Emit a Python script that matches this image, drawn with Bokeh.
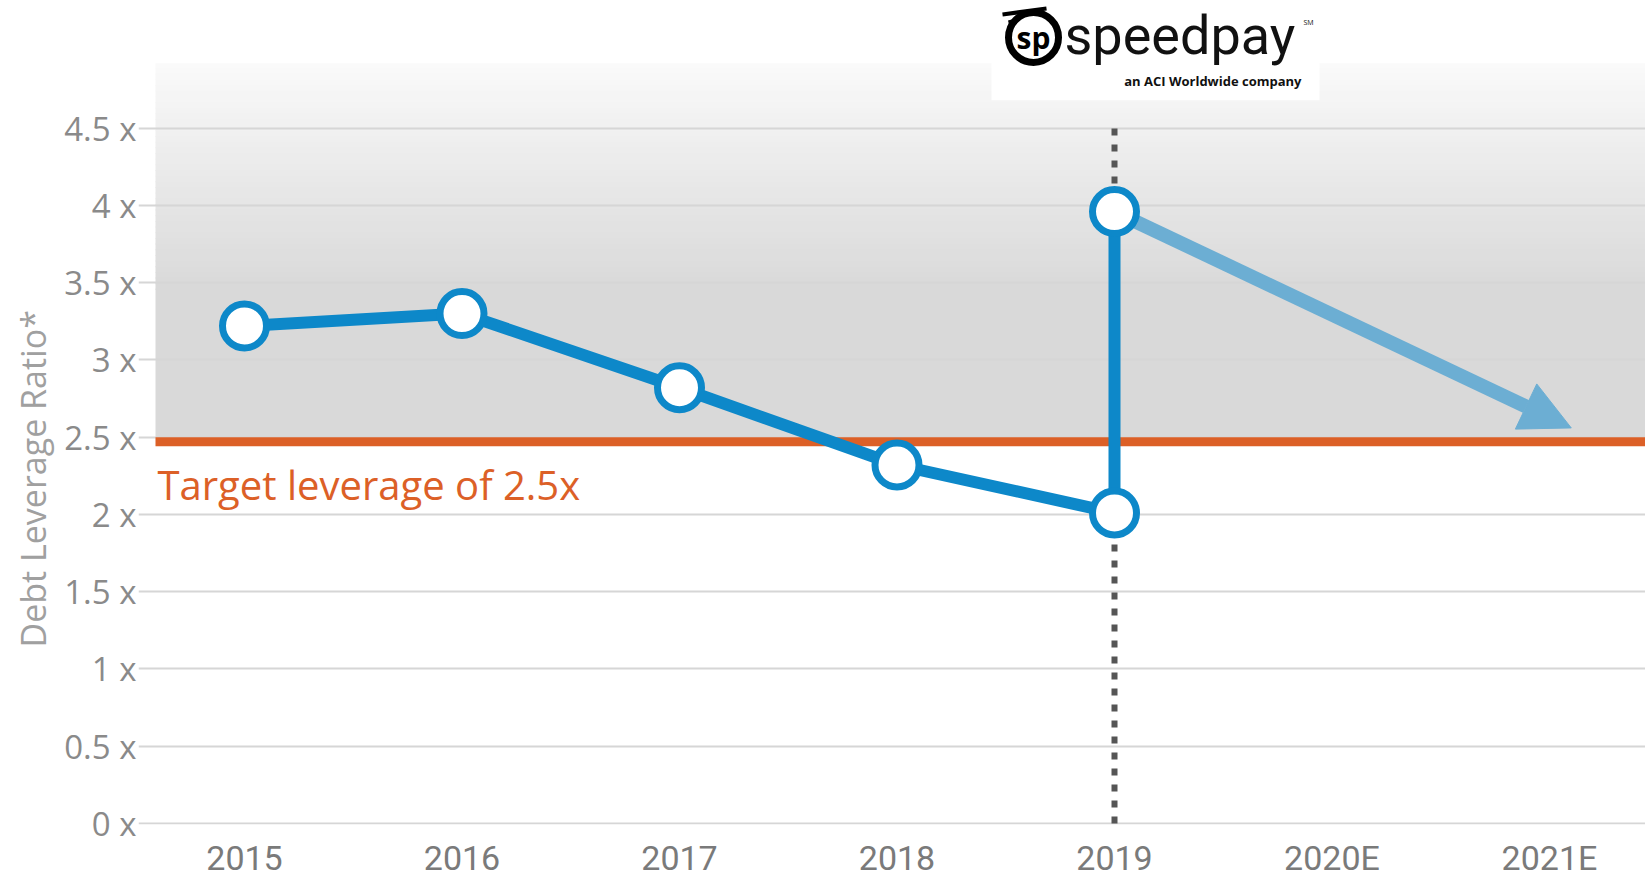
import math
from bokeh.plotting import figure
from bokeh.models import Range1d, FixedTicker, Arrow, NormalHead, Label, Title
from bokeh.embed import file_html
from bokeh.resources import INLINE
from bokeh.core.properties import value

# ---------------- data ----------------
years = ["2015", "2016", "2017", "2018", "2019", "2020E", "2021E"]
leverage_years = ["2015", "2016", "2017", "2018", "2019"]
leverage_values = [3.22, 3.30, 2.82, 2.32, 2.01]
pro_forma_year = "2019"
pro_forma_value = 3.96
forecast_years = ["2019", "2021E"]
forecast_values = [3.96, 2.56]
target_leverage = 2.5
y_ticks = [0.0, 0.5, 1.0, 1.5, 2.0, 2.5, 3.0, 3.5, 4.0, 4.5]
y_tick_labels = ["0 x", "0.5 x", "1 x", "1.5 x", "2 x", "2.5 x", "3 x", "3.5 x", "4 x", "4.5 x"]

# ---------------- geometry helpers (screen px -> data) ----------------
W, H = 1645, 880
X0PX, XSTEP = 244.0, 217.5      # screen x of first category, px per category
Y0PX, YSTEP = 825.0, 154.9      # screen y of 0, px per unit
FRAME_L, FRAME_B = 138, 826


def dx(sx):
    return (sx - X0PX) / XSTEP


def dy(sy):
    return (Y0PX - sy) / YSTEP


x_lo, x_hi = dx(FRAME_L), dx(W)
y_lo, y_hi = dy(FRAME_B), dy(0)

p = figure(width=W, height=H, output_backend="svg", toolbar_location=None,
           x_range=Range1d(x_lo, x_hi), y_range=Range1d(y_lo, y_hi),
           min_border_left=FRAME_L, min_border_right=0, min_border_top=0,
           min_border_bottom=H - FRAME_B, background_fill_color="white",
           border_fill_color="white")
p.outline_line_color = None

# ---------------- shaded zone above target (vertical gradient) ----------------
g_left = dx(155)
top_v, grad_end_v = dy(63), dy(290)
n = 40
bottoms, tops, colors = [], [], []
for k in range(n):
    t0 = top_v - (top_v - grad_end_v) * k / n
    t1 = top_v - (top_v - grad_end_v) * (k + 1) / n
    f = (k + 0.5) / n
    c = int(round(250 + (217 - 250) * f))
    tops.append(t0 if k == 0 else t0 + 0.006)
    bottoms.append(t1)
    colors.append("#%02x%02x%02x" % (c, c, c))
tops.append(grad_end_v + 0.006)
bottoms.append(target_leverage)
colors.append("#d9d9d9")
p.quad(left=g_left, right=x_hi + 1, top=tops, bottom=bottoms, fill_color=colors,
       line_color=None, level="image")

# logo white box
p.quad(left=dx(991), right=dx(1319), top=y_hi + 1, bottom=dy(100),
       fill_color="white", line_color=None, level="image")

# ---------------- axes / grid ----------------
p.xgrid.visible = False
p.ygrid.ticker = FixedTicker(ticks=y_ticks)
p.ygrid.grid_line_color = "#d6d6d6"
p.ygrid.grid_line_width = 2

for ax in (p.xaxis, p.yaxis):
    ax.axis_line_color = None
    ax.major_tick_line_color = None
    ax.minor_tick_line_color = None
    ax.major_tick_out = 0
    ax.major_tick_in = 0
    ax.minor_tick_out = 0
    ax.axis_label_standoff = 0

p.yaxis.ticker = FixedTicker(ticks=y_ticks)
p.yaxis.major_label_overrides = {t: l for t, l in zip(y_ticks, y_tick_labels)}
p.yaxis.major_label_text_font = "Open Sans"
p.yaxis.major_label_text_font_size = "33px"
p.yaxis.major_label_text_color = "#8a8a8a"
p.yaxis.major_label_standoff = 2

x_idx = list(range(len(years)))
p.xaxis.ticker = FixedTicker(ticks=x_idx)
p.xaxis.major_label_overrides = {i: y for i, y in zip(x_idx, years)}
p.xaxis.major_label_text_font = "Roboto"
p.xaxis.major_label_text_font_size = "34px"
p.xaxis.major_label_text_color = "#7a7a7a"
p.xaxis.major_label_standoff = 13

# y axis title on the left
p.add_layout(Title(text="Debt Leverage Ratio*", align="left", offset=177, standoff=12,
                   text_font="Open Sans", text_font_size="34px",
                   text_font_style="normal", text_color="#a0a0a0"), "left")

# ---------------- target line ----------------
p.quad(left=g_left, right=x_hi + 1, top=target_leverage,
       bottom=target_leverage - 9 / YSTEP, fill_color="#dc6027", line_color=None)
p.add_layout(Label(x=dx(157), y=dy(485), text="Target leverage of 2.5x",
                   text_font="Open Sans", text_font_size="40px",
                   text_color="#dc6027", text_baseline="middle"))

# ---------------- 2019 dotted divider ----------------
i19 = years.index(pro_forma_year)
p.segment(x0=i19, y0=0, x1=i19, y1=dy(124), line_color="#555555",
          line_width=6, line_dash="7 9")

# ---------------- forecast arrow ----------------
fx = [years.index(y) for y in forecast_years]
p.add_layout(Arrow(x_start=fx[0], y_start=forecast_values[0],
                   x_end=fx[1] + 0.1, y_end=forecast_values[1],
                   line_color="#6caed3", line_width=14,
                   end=NormalHead(size=50, fill_color="#6caed3", line_color="#6caed3"),
                   level="underlay"))

# ---------------- leverage line ----------------
BLUE = "#0d88c9"
lx = [years.index(y) for y in leverage_years]
p.line(lx, leverage_values, line_color=BLUE, line_width=12, line_join="round")
p.line([i19, i19], [leverage_values[-1], pro_forma_value], line_color=BLUE, line_width=12)
p.scatter(lx + [i19], leverage_values + [pro_forma_value], size=44,
          fill_color="white", line_color=BLUE, line_width=7)

# ---------------- logo ----------------
ex, ey = dx(1033), dy(37)
p.segment(x0=[dx(1002), dx(1008)], y0=[dy(14), dy(22)], x1=[dx(1046), dx(1030)],
          y1=[dy(8), dy(16)], line_color="black", line_width=4)
p.scatter([ex], [ey], size=50, fill_color="white", line_color="black", line_width=7)
p.text([ex], [ey], text=["sp"], text_font=value("Open Sans"), text_font_size="30px",
       text_font_style="bold", text_align="center", text_baseline="middle",
       text_color="black")
p.text([dx(1064)], [dy(35)], text=["speedpay"], text_font=value("Roboto"),
       text_font_size="54px", text_align="left", text_baseline="middle",
       text_color="#111111")
p.text([dx(1303)], [dy(22)], text=["SM"], text_font=value("Open Sans"),
       text_font_size="7px", text_align="left", text_baseline="middle",
       text_color="#111111")
p.text([dx(1301)], [dy(81)], text=["an ACI Worldwide company"], text_font=value("Open Sans"),
       text_font_size="13px", text_font_style="bold", text_align="right",
       text_baseline="middle", text_color="#111111")

open("out.html", "w").write(file_html(p, INLINE))
